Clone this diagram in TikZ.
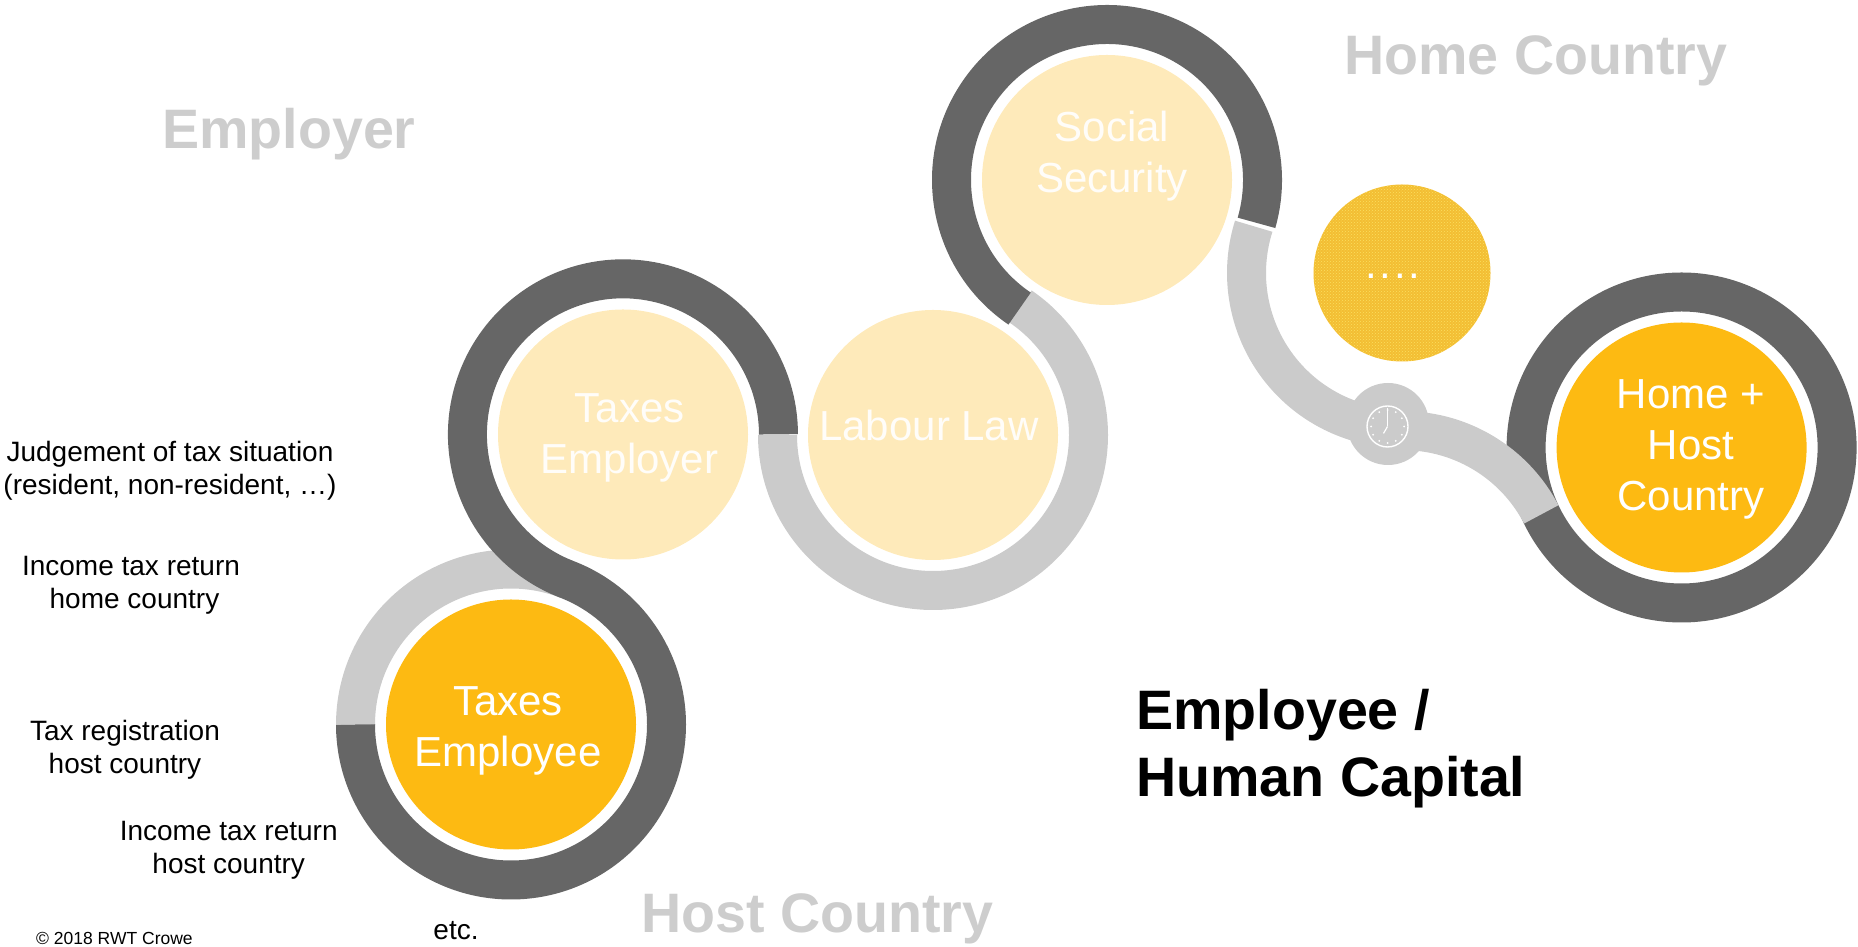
\documentclass[tikz,border=0pt]{standalone}
\usepackage{fontspec}
\setmainfont{Liberation Sans}
\usetikzlibrary{patterns}
\definecolor{banddark}{HTML}{666666}
\definecolor{bandgrey}{HTML}{CBCBCB}
\definecolor{sunyellow}{HTML}{FDBA12}
\definecolor{paleyellow}{HTML}{FEEABA}
\definecolor{dotyellow}{HTML}{F3BE33}
\definecolor{dotlight}{HTML}{FBDF60}
\definecolor{titlegrey}{HTML}{CDCDCD}
\tikzset{
    bubble/.style={circle,minimum size=250pt,inner sep=0pt},
    darkarc/.style={line width=39pt,color=banddark},
    greyarc/.style={line width=39pt,color=bandgrey},
    circletxt/.style={anchor=base,align=center,text=white,inner sep=0pt,font=\fontsize{42}{51}\selectfont},
    smalltxt/.style={anchor=base,align=center,text=black,inner sep=0pt,font=\fontsize{28}{33}\selectfont},
    titletxt/.style={anchor=base west,inner sep=0pt,text=titlegrey,font=\fontsize{55.6}{67}\selectfont\bfseries}
}
\begin{document}
\begin{tikzpicture}[x=1pt,y=1pt]
\useasboundingbox (0,0) rectangle (1858,947);
\node[bubble,fill=sunyellow] (taxesemployee) at (511,222.5) {};
\node[bubble,fill=paleyellow] (taxesemployer) at (623,512.5) {};
\node[bubble,fill=paleyellow] (labourlaw) at (933,512) {};
\node[bubble,fill=paleyellow] (socialsecurity) at (1107,767) {};
\node[circle,minimum size=177pt,inner sep=0pt,fill=dotyellow,postaction={pattern=crosshatch dots,pattern color=dotlight}] (dots) at (1402,674) {};
\node[bubble,fill=sunyellow] (homehost) at (1681.6,499.5) {};
\coordinate (bend) at (1403.3,360.8);
% bands round the circles
\draw[greyarc] ([shift={(180:155.5)}]taxesemployee.center) arc (180:68.9:155.5);
\draw[darkarc] ([shift={(180:155.5)}]taxesemployee.center) arc (180:428.9:155.5) arc (248.9:0:155.5);
\draw[greyarc] ([shift={(180:155.5)}]labourlaw.center) arc (180:415.8:155.5);
\draw[darkarc] ([shift={(235.8:155.5)}]socialsecurity.center) arc (235.8:-16:155.5);
\draw[darkarc] (homehost.center) circle (155.5);
\draw[greyarc] ([shift={(162.5:155.5)}]dots.center) arc (162.5:265:155.5);
\draw[greyarc] ([shift={(100:155.5)}]bend) arc (100:27.5:155.5);
% clock
\node[circle,minimum size=82pt,inner sep=0pt,fill=bandgrey] (clockdisc) at (1388,523) {};
\node[circle,minimum size=41pt,inner sep=0pt,draw=white,line width=1.4pt] (clockface) at (1387.5,520.5) {};
\foreach \a in {0,30,...,330}
\fill[white] ([shift={(\a:16.5)}]clockface.center) circle (1pt);
\draw[white,line width=1.2pt] (clockface.center) -- ++(0,18.5);
\draw[white,line width=1.2pt] (clockface.center) -- ++(240:8);
% texts
\node[circletxt] (txtemployee) at (508,180) {Taxes\\Employee};
\node[circletxt,text=white!92!paleyellow] (txemployer) at (629.5,473) {Taxes\\Employer};
\node[circletxt,text=white!92!paleyellow] (txlabour) at (929,506) {Labour Law};
\node[circletxt,text=white!92!paleyellow] (txsocial) at (1112,754) {Social\\Security};
\node[circletxt] (txhome) at (1691,436) {Home +\\Host\\Country};
\node[circletxt] (txdots) at (1393,668.6) {.\kern2.7pt.\kern2.7pt.\kern2.7pt.};
\node[titletxt] (txtemployer) at (162,798) {Employer};
\node[titletxt] (txthome) at (1344,872) {Home Country};
\node[titletxt] (txthost) at (641,14) {Host Country};
\node[titletxt,text=black,align=left] (txthuman) at (1136,150) {Employee /\\Human Capital};
\node[smalltxt] (lbjudge) at (170,452) {Judgement of tax situation\\(resident, non-resident, \dots)};
\node[smalltxt] (lbhome) at (131,338.5) {Income tax return\\\hspace{7pt}home country};
\node[smalltxt] (lbreg) at (125,173) {Tax registration\\host country};
\node[smalltxt] (lbhost) at (228.7,73.5) {Income tax return\\host country};
\node[smalltxt] (lbetc) at (456,7) {etc.};
\node[anchor=base west,inner sep=0pt,font=\fontsize{17.5}{20}\selectfont] (lbcopy) at (36,2) {\textcopyright{} 2018 RWT Crowe};
\end{tikzpicture}
\end{document}
